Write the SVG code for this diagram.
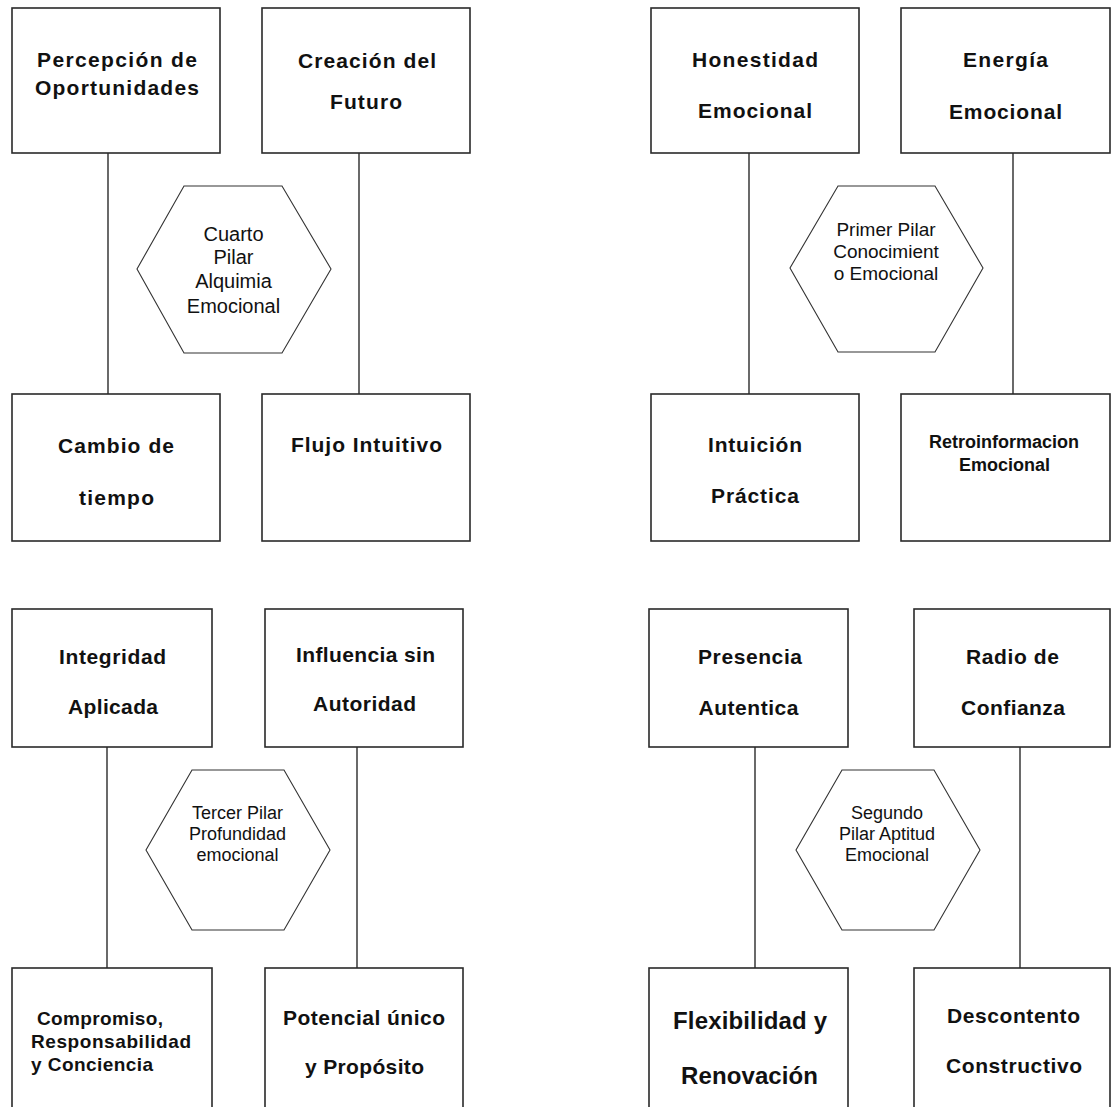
<svg xmlns="http://www.w3.org/2000/svg" width="1114" height="1107" viewBox="0 0 1114 1107">
<style>
.box{fill:#fff;stroke:#2a2a2a;stroke-width:1.6}
.hex{fill:#fff;stroke:#333;stroke-width:1.1}
.con line{stroke:#2a2a2a;stroke-width:1.4}
.b{font-family:"Liberation Sans",Arial,sans-serif;font-weight:bold;font-size:21px;fill:#111;text-anchor:middle}
.b24{font-size:24px}
.b18{font-size:18px}
.b19{font-size:19px;text-anchor:start}
.h{font-family:"Liberation Sans",Arial,sans-serif;font-size:18px;fill:#111;text-anchor:middle}
.h20{font-size:20px}
.h19{font-size:19px}
</style>
<rect width="1114" height="1107" fill="#fff"/>
<g id="connectors" class="con">
<line x1="108" y1="153" x2="108" y2="394"/>
<line x1="359" y1="153" x2="359" y2="394"/>
<line x1="749" y1="153" x2="749" y2="394"/>
<line x1="1013" y1="153" x2="1013" y2="394"/>
<line x1="107" y1="747" x2="107" y2="968"/>
<line x1="357" y1="747" x2="357" y2="968"/>
<line x1="755" y1="747" x2="755" y2="968"/>
<line x1="1020" y1="747" x2="1020" y2="968"/>
</g>
<g id="percepcion"><rect class="box" x="12" y="8" width="208" height="145"/>
<text class="b" x="117" y="67" textLength="160" lengthAdjust="spacing">Percepción de</text>
<text class="b" x="117" y="95" textLength="164" lengthAdjust="spacing">Oportunidades</text></g>
<g id="creacion"><rect class="box" x="262" y="8" width="208" height="145"/>
<text class="b" x="367" y="68" textLength="138" lengthAdjust="spacing">Creación del</text>
<text class="b" x="366" y="109" textLength="72" lengthAdjust="spacing">Futuro</text></g>
<g id="cambio"><rect class="box" x="12" y="394" width="208" height="147"/>
<text class="b" x="116" y="453" textLength="116" lengthAdjust="spacing">Cambio de</text>
<text class="b" x="116.5" y="505" textLength="75" lengthAdjust="spacing">tiempo</text></g>
<g id="flujo"><rect class="box" x="262" y="394" width="208" height="147"/>
<text class="b" x="366.5" y="452" textLength="151" lengthAdjust="spacing">Flujo Intuitivo</text></g>
<g id="hex-cuarto"><polygon class="hex" points="184,186 282,186 331,269 282,353 184,353 137,269"/>
<text class="h h20" x="233.5" y="241">Cuarto</text>
<text class="h h20" x="233.5" y="264">Pilar</text>
<text class="h h20" x="233.5" y="288">Alquimia</text>
<text class="h h20" x="233.5" y="313">Emocional</text></g>
<g id="honestidad"><rect class="box" x="651" y="8" width="208" height="145"/>
<text class="b" x="755" y="66.5" textLength="126" lengthAdjust="spacing">Honestidad</text>
<text class="b" x="755" y="118" textLength="114" lengthAdjust="spacing">Emocional</text></g>
<g id="energia"><rect class="box" x="901" y="8" width="209" height="145"/>
<text class="b" x="1005.5" y="67" textLength="85" lengthAdjust="spacing">Energía</text>
<text class="b" x="1005.5" y="118.5" textLength="113" lengthAdjust="spacing">Emocional</text></g>
<g id="intuicion"><rect class="box" x="651" y="394" width="208" height="147"/>
<text class="b" x="755" y="451.5" textLength="94" lengthAdjust="spacing">Intuición</text>
<text class="b" x="755" y="503" textLength="88" lengthAdjust="spacing">Práctica</text></g>
<g id="retro"><rect class="box" x="901" y="394" width="209" height="147"/>
<text class="b b18" x="1004" y="447.5">Retroinformacion</text>
<text class="b b18" x="1004.5" y="471">Emocional</text></g>
<g id="hex-primer"><polygon class="hex" points="838,186 935,186 983,268 935,352 838,352 790,268"/>
<text class="h h19" x="886" y="236">Primer Pilar</text>
<text class="h h19" x="886" y="257.5">Conocimient</text>
<text class="h h19" x="886" y="280">o Emocional</text></g>
<g id="integridad"><rect class="box" x="12" y="609" width="200" height="138"/>
<text class="b" x="112.5" y="664" textLength="107" lengthAdjust="spacing">Integridad</text>
<text class="b" x="113" y="714" textLength="90" lengthAdjust="spacing">Aplicada</text></g>
<g id="influencia"><rect class="box" x="265" y="609" width="198" height="138"/>
<text class="b" x="365.5" y="662" textLength="139" lengthAdjust="spacing">Influencia sin</text>
<text class="b" x="364.5" y="711" textLength="103" lengthAdjust="spacing">Autoridad</text></g>
<g id="compromiso"><rect class="box" x="12" y="968" width="200" height="160"/>
<text class="b b19" x="37" y="1025" textLength="126" lengthAdjust="spacing">Compromiso,</text>
<text class="b b19" x="31" y="1048" textLength="160" lengthAdjust="spacing">Responsabilidad</text>
<text class="b b19" x="31" y="1071" textLength="122" lengthAdjust="spacing">y Conciencia</text></g>
<g id="potencial"><rect class="box" x="265" y="968" width="198" height="160"/>
<text class="b" x="364" y="1025" textLength="162" lengthAdjust="spacing">Potencial único</text>
<text class="b" x="364.5" y="1074" textLength="119" lengthAdjust="spacing">y Propósito</text></g>
<g id="hex-tercer"><polygon class="hex" points="192,770 284,770 330,850 284,930 192,930 146,850"/>
<text class="h" x="237.5" y="819">Tercer Pilar</text>
<text class="h" x="237.5" y="839.5">Profundidad</text>
<text class="h" x="237.5" y="861">emocional</text></g>
<g id="presencia"><rect class="box" x="649" y="609" width="199" height="138"/>
<text class="b" x="750" y="664" textLength="104" lengthAdjust="spacing">Presencia</text>
<text class="b" x="748.5" y="714.5" textLength="100" lengthAdjust="spacing">Autentica</text></g>
<g id="radio"><rect class="box" x="914" y="609" width="196" height="138"/>
<text class="b" x="1012.5" y="664" textLength="93" lengthAdjust="spacing">Radio de</text>
<text class="b" x="1013" y="714.5" textLength="104" lengthAdjust="spacing">Confianza</text></g>
<g id="flexibilidad"><rect class="box" x="649" y="968" width="199" height="160"/>
<text class="b b24" x="750" y="1029" textLength="154" lengthAdjust="spacing">Flexibilidad y</text>
<text class="b b24" x="749.5" y="1084" textLength="137" lengthAdjust="spacing">Renovación</text></g>
<g id="descontento"><rect class="box" x="914" y="968" width="196" height="160"/>
<text class="b" x="1013.5" y="1023" textLength="133" lengthAdjust="spacing">Descontento</text>
<text class="b" x="1014" y="1072.5" textLength="136" lengthAdjust="spacing">Constructivo</text></g>
<g id="hex-segundo"><polygon class="hex" points="842,770 934,770 980,850 934,930 842,930 796,850"/>
<text class="h" x="887" y="819">Segundo</text>
<text class="h" x="887" y="839.5">Pilar Aptitud</text>
<text class="h" x="887" y="861">Emocional</text></g>
</svg>
